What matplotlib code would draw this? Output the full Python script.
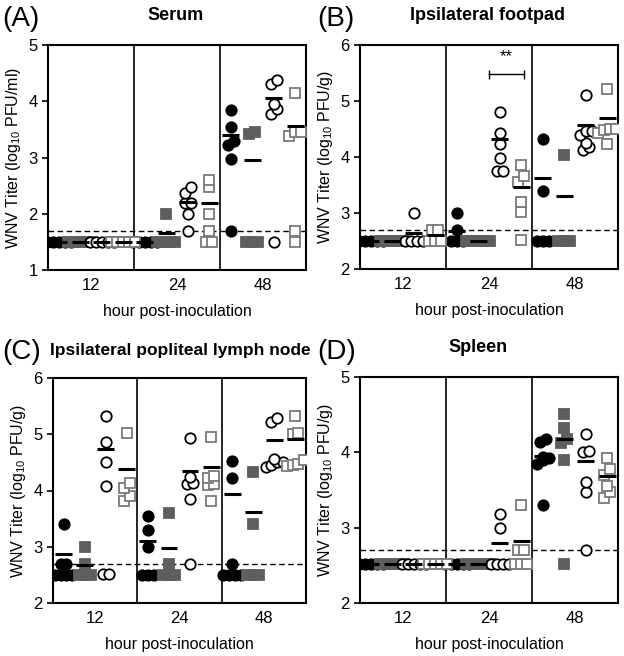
import matplotlib
matplotlib.use('Agg')
import matplotlib.pyplot as plt
import numpy as np

plt.rcParams['font.family'] = ['Liberation Sans', 'DejaVu Sans']
plt.rcParams['mathtext.default'] = 'regular'

hours = ['12', '24', '48']

# (A) serum, one inner list per time point (12, 24, 48 h)
serum_blk = [[1.5] * 5, [1.5] * 5, [3.85, 3.55, 3.3, 3.22, 2.98, 1.7]]
serum_gry = [[1.5] * 5, [2.0, 1.5, 1.5, 1.5, 1.5], [3.45, 3.42, 1.5, 1.5, 1.5]]
serum_ocirc = [[1.5] * 5, [2.48, 2.37, 2.2, 2.2, 2.0, 1.7], [4.37, 4.3, 3.96, 3.86, 3.77, 1.5]]
serum_osq = [[1.5] * 5, [2.6, 2.48, 2.0, 1.7, 1.5, 1.5], [4.15, 3.45, 3.45, 3.38, 1.7, 1.5]]
serum_means = [[1.5, 1.5, 3.4], [1.5, 1.65, 2.96], [1.5, 2.21, 4.05], [1.5, 2.19, 3.56]]

# (B) ipsilateral footpad
foot_blk = [[2.5] * 5, [3.0, 2.7, 2.5, 2.5, 2.5], [4.33, 3.4, 2.5, 2.5, 2.5]]
foot_gry = [[2.5] * 5, [2.5] * 5, [4.03, 2.5, 2.5, 2.5]]
foot_ocirc = [[3.0, 2.5, 2.5, 2.5, 2.5], [4.8, 4.42, 4.23, 3.98, 3.75, 3.75],
              [5.1, 4.46, 4.46, 4.4, 4.25, 4.17, 4.12]]
foot_osq = [[2.7, 2.7, 2.5, 2.5, 2.5], [3.85, 3.66, 3.56, 3.19, 3.01, 2.52],
            [5.22, 4.5, 4.48, 4.5, 4.42, 4.23]]
foot_means = [[2.5, 2.68, 3.62], [2.5, 2.5, 3.3], [2.65, 4.32, 4.58], [2.6, 3.47, 4.7]]

# (C) ipsilateral popliteal lymph node
ln_blk = [[3.4, 2.7, 2.7, 2.5, 2.5, 2.5, 2.5], [3.55, 3.3, 3.0, 2.5, 2.5, 2.5],
          [4.53, 4.22, 2.7, 2.5, 2.5, 2.5, 2.5]]
ln_gry = [[3.0, 2.7, 2.5, 2.5, 2.5], [3.6, 2.7, 2.5, 2.5, 2.5], [4.33, 3.4, 2.5, 2.5, 2.5]]
ln_ocirc = [[5.32, 4.86, 4.5, 4.08, 2.52, 2.52], [4.93, 4.24, 4.14, 4.12, 3.85, 2.7],
            [5.29, 5.21, 4.56, 4.5, 4.46, 4.42, 4.5]]
ln_osq = [[5.02, 4.14, 4.04, 3.9, 3.82], [4.96, 4.26, 4.22, 4.12, 4.1, 3.82],
          [5.33, 5.03, 5.0, 4.54, 4.45, 4.44, 4.48]]
ln_means = [[2.88, 3.1, 3.93], [2.68, 2.98, 3.62], [4.73, 4.34, 4.9], [4.39, 4.42, 4.92]]

# (D) spleen
spl_blk = [[2.52] * 5, [2.52] * 5, [4.18, 4.14, 3.94, 3.92, 3.9, 3.84, 3.3]]
spl_gry = [[2.52] * 5, [2.52] * 5, [4.51, 4.32, 4.18, 4.12, 3.9, 2.52]]
spl_ocirc = [[2.52] * 5, [3.18, 3.0, 2.52, 2.52, 2.52, 2.52], [4.25, 4.02, 4.0, 3.6, 3.47, 2.7]]
spl_osq = [[2.52] * 5, [3.3, 2.7, 2.7, 2.52, 2.52, 2.52], [3.93, 3.78, 3.7, 3.55, 3.47, 3.4]]
spl_means = [[2.52, 2.52, 3.95], [2.52, 2.52, 4.18], [2.52, 2.8, 3.88], [2.52, 2.82, 3.68]]

styles = [dict(marker='o', mfc='black', mec='black'),
          dict(marker='s', mfc='#5e5e5e', mec='#5e5e5e'),
          dict(marker='o', mfc='white', mec='black'),
          dict(marker='s', mfc='white', mec='#7a7a7a')]


def spread(vals, tol, step=0.07):
    # GraphPad-like column scatter: near-equal values sit side by side
    vals = sorted(vals)
    clusters = [[vals[0]]]
    for v in vals[1:]:
        if v - clusters[-1][0] <= tol:
            clusters[-1].append(v)
        else:
            clusters.append([v])
    xs, ys = [], []
    for c in clusters:
        n = len(c)
        for i, v in enumerate(c):
            xs.append((i - (n - 1) / 2) * step)
            ys.append(v)
    return np.array(xs), np.array(ys)


def draw_panel(ax, groups, means, ylim, lod, unit):
    tol = 0.12 * (ylim[1] - ylim[0]) / 4
    for g, (data, st) in enumerate(zip(groups, styles)):
        for t in range(3):
            c = t + (g + 0.5) / 4
            dx, ys = spread(data[t], tol)
            ax.plot(c + dx, ys, ls='none', ms=7.5, mew=1.3, zorder=3, **st)
            ax.hlines(means[g][t], c - 0.1, c + 0.1, color='black', lw=2.2, zorder=5)
    ax.axhline(lod, color='black', lw=1, ls=(0, (4, 2.5)), zorder=2)
    for s in (1, 2):
        ax.axvline(s, color='black', lw=1.2, zorder=1)
    ax.set_xlim(0, 3)
    ax.set_ylim(*ylim)
    ax.set_yticks(np.arange(ylim[0], ylim[1] + 1))
    ax.set_xticks([0.5, 1.5, 2.5])
    ax.set_xticklabels(hours)
    ax.tick_params(axis='x', length=0, labelsize=12, pad=6)
    ax.tick_params(axis='y', length=4, width=1.2, labelsize=12, direction='out')
    for sp in ax.spines.values():
        sp.set_linewidth(1.5)
    ax.set_xlabel('hour post-inoculation', fontsize=11.5, labelpad=8)
    ax.set_ylabel('WNV Titer (log$_{10}$ PFU/' + unit + ')', fontsize=11.5)


fig = plt.figure(figsize=(6.24, 6.56), dpi=100)
W, H = 624, 656


def px_axes(l, t, r, b):
    return fig.add_axes([l / W, 1 - b / H, (r - l) / W, (b - t) / H])


axA = px_axes(48, 45, 306, 270)
axB = px_axes(360, 45, 618, 269)
axC = px_axes(53, 378, 306, 603)
axD = px_axes(360, 377, 618, 603)

draw_panel(axA, [serum_blk, serum_gry, serum_ocirc, serum_osq], serum_means, (1, 5), 1.7, 'ml')
draw_panel(axB, [foot_blk, foot_gry, foot_ocirc, foot_osq], foot_means, (2, 6), 2.7, 'g')
draw_panel(axC, [ln_blk, ln_gry, ln_ocirc, ln_osq], ln_means, (2, 6), 2.7, 'g')
draw_panel(axD, [spl_blk, spl_gry, spl_ocirc, spl_osq], spl_means, (2, 5), 2.7, 'g')

# significance bracket in (B), 24 h
axB.plot([1.5, 1.91], [5.48, 5.48], color='black', lw=1)
axB.vlines([1.5, 1.91], 5.4, 5.56, color='black', lw=1)
axB.text(1.7, 5.8, '**', ha='center', va='center', fontsize=12)

panel_text = [('(A)', 2, 19, 'Serum', 176, 16, 13),
              ('(B)', 317, 19, 'Ipsilateral footpad', 487, 16, 13),
              ('(C)', 2, 352, 'Ipsilateral popliteal lymph node', 180, 350, 12.5),
              ('(D)', 317, 352, 'Spleen', 478, 347, 13)]
for lab, lx, ly, title, tx, ty, fs in panel_text:
    fig.text(lx / W, 1 - ly / H, lab, fontsize=20, va='center', ha='left')
    fig.text(tx / W, 1 - ty / H, title, fontsize=fs, fontweight='bold', va='center', ha='center')

fig.savefig('out.png', dpi=100)
